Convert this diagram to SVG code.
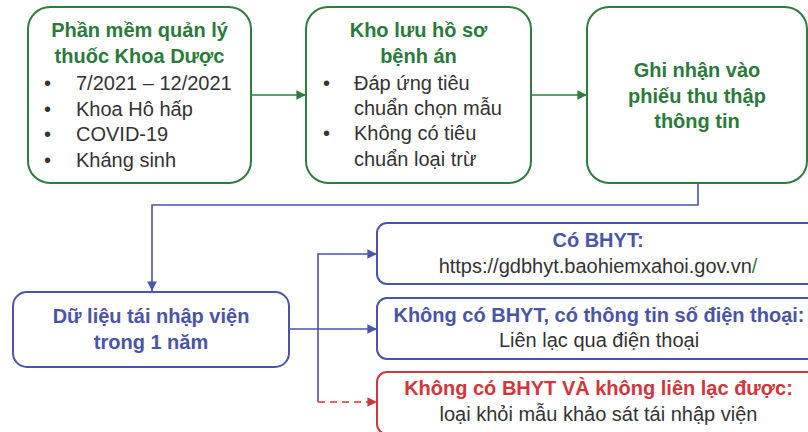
<svg xmlns="http://www.w3.org/2000/svg" width="808" height="432" viewBox="0 0 808 432">
<defs>
<style>
text{font-family:"Liberation Sans",Arial,sans-serif;font-size:20px}
.g{fill:none;stroke:#2E7D3E;stroke-width:2}
.b{fill:none;stroke:#4A54A8;stroke-width:2}
.r{fill:none;stroke:#D2353B;stroke-width:2}
.tg{fill:#2A7A3B;font-weight:bold;text-anchor:middle}
.tb{fill:#4A54A8;font-weight:bold;text-anchor:middle}
.tr{fill:#D2353B;font-weight:bold;text-anchor:middle}
.tx{fill:#333333}
.tc{fill:#333333;text-anchor:middle}
.lg{fill:none;stroke:#2E7D3E;stroke-width:1.6}
.lb{fill:none;stroke:#4A54A8;stroke-width:1.6}
.lr{fill:none;stroke:#D2353B;stroke-width:1.6;stroke-dasharray:7 5}
</style>
<marker id="ag" viewBox="0 0 10 10" refX="10" refY="5" markerWidth="6" markerHeight="6" orient="auto" markerUnits="strokeWidth"><path d="M0,0L10,5L0,10z" fill="#2E7D3E"/></marker>
<marker id="ab" viewBox="0 0 10 10" refX="10" refY="5" markerWidth="6" markerHeight="6" orient="auto" markerUnits="strokeWidth"><path d="M0,0L10,5L0,10z" fill="#4A54A8"/></marker>
<marker id="ar" viewBox="0 0 10 10" refX="10" refY="5" markerWidth="6" markerHeight="6" orient="auto" markerUnits="strokeWidth"><path d="M0,0L10,5L0,10z" fill="#D2353B"/></marker>
</defs>
<rect width="808" height="432" fill="#ffffff"/>
<g id="connectors">
<path class="lg" d="M251 95H306" marker-end="url(#ag)"/>
<path class="lg" d="M531 95H587" marker-end="url(#ag)"/>
<path class="lb" d="M698 183V205H152V291" marker-end="url(#ab)"/>
<path class="lb" d="M289 329H377" marker-end="url(#ab)"/>
<path class="lb" d="M318 402V254H377" marker-end="url(#ab)"/>
<path class="lr" d="M318 402H377" marker-end="url(#ar)"/>
</g>
<g id="node-phan-mem">
<rect class="g" x="28" y="7" width="223" height="176" rx="22"/>
<text class="tg" x="139.5" y="37">Phần mềm quản lý</text>
<text class="tg" x="139.5" y="63">thuốc Khoa Dược</text>
<text class="tx" x="44" y="90">•</text><text class="tx" x="76" y="90">7/2021 – 12/2021</text>
<text class="tx" x="44" y="116">•</text><text class="tx" x="76" y="116">Khoa Hô hấp</text>
<text class="tx" x="44" y="141">•</text><text class="tx" x="76" y="141">COVID-19</text>
<text class="tx" x="44" y="167">•</text><text class="tx" x="76" y="167">Kháng sinh</text>
</g>
<g id="node-kho-luu">
<rect class="g" x="306" y="7" width="225" height="176" rx="22"/>
<text class="tg" x="418.5" y="37">Kho lưu hồ sơ</text>
<text class="tg" x="418.5" y="63">bệnh án</text>
<text class="tx" x="323" y="90">•</text><text class="tx" x="354" y="90">Đáp ứng tiêu</text>
<text class="tx" x="354" y="115">chuẩn chọn mẫu</text>
<text class="tx" x="323" y="140">•</text><text class="tx" x="354" y="140">Không có tiêu</text>
<text class="tx" x="354" y="166">chuẩn loại trừ</text>
</g>
<g id="node-ghi-nhan">
<rect class="g" x="587" y="7" width="220" height="176" rx="22"/>
<text class="tg" x="697" y="77">Ghi nhận vào</text>
<text class="tg" x="697" y="103">phiếu thu thập</text>
<text class="tg" x="697" y="128">thông tin</text>
</g>
<g id="node-du-lieu">
<rect class="b" x="13" y="292" width="276" height="75" rx="14"/>
<text class="tb" x="151" y="323">Dữ liệu tái nhập viện</text>
<text class="tb" x="151" y="349">trong 1 năm</text>
</g>
<g id="node-co-bhyt">
<rect class="b" x="377" y="223" width="450" height="61" rx="10"/>
<text class="tb" x="598" y="247">Có BHYT:</text>
<text class="tc" x="598" y="273">https://gdbhyt.baohiemxahoi.gov.vn<tspan fill="#2A7A3B">/</tspan></text>
</g>
<g id="node-khong-bhyt-dt">
<rect class="b" x="377" y="298" width="450" height="61" rx="10"/>
<text class="tb" x="599" y="322">Không có BHYT, có thông tin số điện thoại:</text>
<text class="tc" x="599" y="347">Liên lạc qua điện thoại</text>
</g>
<g id="node-loai">
<rect class="r" x="377" y="372" width="450" height="62" rx="10"/>
<text class="tr" x="598.5" y="395">Không có BHYT VÀ không liên lạc được:</text>
<text class="tc" x="598.5" y="421">loại khỏi mẫu khảo sát tái nhập viện</text>
</g>
</svg>
